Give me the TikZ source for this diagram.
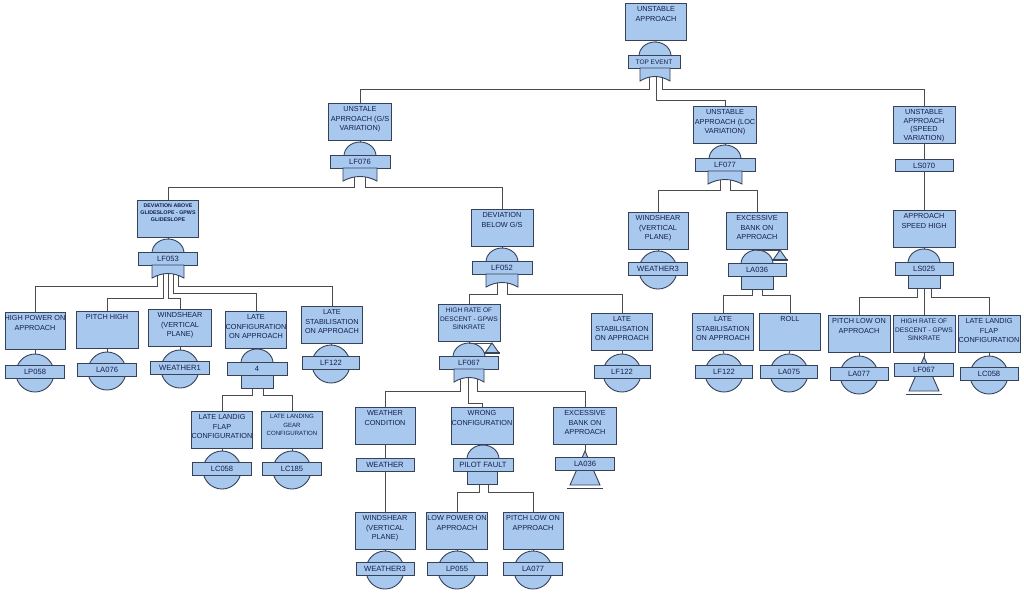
\documentclass[tikz,border=0pt]{standalone}
\usepackage{fontspec}
\setmainfont{Liberation Sans}
\pgfdeclarelayer{bg}
\pgfsetlayers{bg,main}
\definecolor{bfill}{RGB}{168,200,238}
\definecolor{bdraw}{RGB}{55,65,88}
\definecolor{wcol}{RGB}{75,75,75}
\definecolor{tcol}{RGB}{20,30,75}
\tikzset{
 ebox/.style={draw=bdraw, fill=bfill, line width=0.9pt, minimum height=37pt, inner sep=0pt, rectangle},
 etext/.style={font=\fontsize{7.3}{9.3}\selectfont, text=tcol, align=center, inner sep=0pt},
 ebar/.style={draw=bdraw, fill=bfill, line width=0.9pt, minimum height=12.5pt, minimum width=59pt, inner sep=0pt, font=\fontsize{7.6}{8}\selectfont, text=tcol, rectangle},
 gshape/.style={draw=bdraw, fill=bfill, line width=0.9pt},
 wire/.style={draw=wcol, line width=0.9pt},
}
\newcommand{\ebx}[6][]{%
  \node[ebox, minimum width=#5pt, anchor=north] (#2) at (#3,#4) {};
  \node[etext, anchor=north, #1] (#2t) at ([yshift=-3.5pt]#2.north) {#6};}
\newcommand{\dome}[2]{\draw[gshape] ({#1+16},#2) arc[start angle=0,end angle=180,x radius=16pt,y radius=14pt] -- cycle;}
\newcommand{\orbot}[3]{\draw[gshape] ({#1-#3},#2) -- ({#1-#3},{#2+13}) .. controls ({#1-#3/3},{#2+7}) and ({#1+#3/3},{#2+7}) .. ({#1+#3},{#2+13}) -- ({#1+#3},#2) -- cycle;}
\newcommand{\andbot}[3]{\draw[gshape] ({#1-#3},#2) rectangle ({#1+#3},{#2+13});}
\newcommand{\bev}[5][59]{%
  \node[gshape, circle, minimum size=38pt, inner sep=0pt] (#2c) at (#3,#4) {};
  \node[ebar, minimum width=#1pt] (#2) at (#3,{#4-1}) {#5};}
\newcommand{\xin}[4]{%
  \coordinate (#1a) at (#2,#3);
  \draw[gshape] (#2,#3) -- ({#2+15},{#3+34}) -- ({#2-15},{#3+34}) -- cycle;
  \draw[bdraw, line width=1pt] ({#2-18},{#3+37}) -- ({#2+18},{#3+37});
  \node[ebar] (#1) at (#2,{#3+13}) {#4};}
\newcommand{\xout}[3]{%
  \draw[wire] (#2,#1) -- (#3,#1);
  \draw[gshape] (#3,#1) -- ({#3+7},{#1+10}) -- ({#3-7},{#1+10}) -- cycle;
  \draw[bdraw, line width=1.3pt] ({#3-8},{#1+10}) -- ({#3+8},{#1+10});}
\begin{document}
\begin{tikzpicture}[x=1pt,y=-1pt]
\begin{pgfonlayer}{bg}\fill[white] (0,0) rectangle (1024,606);\end{pgfonlayer}
\useasboundingbox (0,0) rectangle (1024,606);

% top
\ebx{b0}{656}{3}{61}{UNSTABLE\\APPROACH}
\dome{655}{56}
\node[ebar, minimum width=52pt, font=\fontsize{6.5}{7}\selectfont] (g0) at (654,62) {TOP EVENT};
\orbot{655}{68}{15}

% G/S
\ebx{b1}{360}{103}{63}{UNSTALE\\APRROACH (G/S\\VARIATION)}
\dome{360}{156}
\node[ebar, minimum width=60pt] (g1) at (360,162) {LF076};
\orbot{360}{168}{17}

% LOC
\ebx{b2}{725}{106}{63}{UNSTABLE\\APPROACH (LOC\\VARIATION)}
\dome{725}{159}
\node[ebar, minimum width=60pt] (g2) at (725,165) {LF077};
\orbot{725}{171}{17}

% SPEED
\ebx[font=\fontsize{7.3}{8.4}\selectfont]{b3}{924}{106}{62}{UNSTABLE\\APPROACH\\(SPEED\\VARIATION)}
\node[ebar, minimum width=58pt] (g3) at (924,165.5) {LS070};
\ebx{b3b}{924}{210}{62}{APPROACH\\SPEED HIGH}
\dome{924}{263}
\node[ebar, minimum width=58pt] (g4) at (924,269) {LS025};
\andbot{924}{275}{16}
\ebx{b9}{859}{315}{62}{PITCH LOW ON\\APPROACH}
\bev[58]{e9}{859}{375}{LA077}
\ebx[font=\fontsize{6.6}{8.7}\selectfont]{b10}{924}{315}{62}{HIGH RATE OF\\DESCENT - GPWS\\SINKRATE}
\xin{x10}{924}{357}{LF067}
\ebx{b11}{989}{315}{62}{LATE LANDIG\\FLAP\\CONFIGURATION}
\bev[58]{e11}{989}{375}{LC058}

% deviation above
\ebx[font=\bfseries\fontsize{5.3}{7}\selectfont]{b4}{168}{200}{61}{DEVIATION ABOVE\\GLIDESLOPE - GPWS\\GLIDESLOPE}
\dome{168}{253}
\node[ebar] (g5) at (168,259) {LF053};
\orbot{168}{265}{16}
\ebx{b12}{35}{312}{60}{HIGH POWER ON\\APPROACH}
\bev{e12}{35}{373}{LP058}
\ebx{b13}{107}{311}{62}{PITCH HIGH}
\bev{e13}{107}{371}{LA076}
\ebx{b14}{180}{309}{63}{WINDSHEAR\\(VERTICAL\\PLANE)}
\bev{e14}{180}{369}{WEATHER1}
\ebx{b15}{256}{311}{61}{LATE\\CONFIGURATION\\ON APPROACH}
\dome{257}{363}
\node[ebar, minimum width=60pt] (g6) at (257,369) {4};
\andbot{257}{375}{16}
\ebx{b16}{332}{306}{61}{LATE\\STABILISATION\\ON APPROACH}
\bev[57]{e16}{331}{364}{LF122}
\ebx{b17}{222}{411}{61}{LATE LANDIG\\FLAP\\CONFIGURATION}
\bev{e17}{222}{470}{LC058}
\ebx[font=\fontsize{6.1}{8.5}\selectfont]{b18}{292}{411}{61}{LATE LANDING\\GEAR\\CONFIGURATION}
\bev{e18}{292}{470}{LC185}

% deviation below
\ebx{b6}{502}{209}{62}{DEVIATION\\BELOW G/S}
\dome{502}{262}
\node[ebar, minimum width=60pt] (g7) at (502,268) {LF052};
\orbot{502}{274}{16}
\ebx[font=\fontsize{6.6}{8.7}\selectfont]{b19}{469}{304}{62}{HIGH RATE OF\\DESCENT - GPWS\\SINKRATE}
\dome{469}{357}
\xout{343}{469}{492}
\node[ebar] (g8) at (469,363) {LF067};
\orbot{469}{369}{15}
\ebx{b20}{622}{313}{61}{LATE\\STABILISATION\\ON APPROACH}
\bev[56]{e20}{622}{373}{LF122}
\ebx{b21}{385}{407}{60}{WEATHER\\CONDITION}
\node[ebar, minimum width=58pt] (g9) at (385,465) {WEATHER};
\ebx{b22}{482}{407}{62}{WRONG\\CONFIGURATION}
\dome{483}{459}
\node[ebar, minimum width=60pt] (g10) at (483,465) {PILOT FAULT};
\andbot{482}{471}{15}
\ebx{b23}{585}{407}{63}{EXCESSIVE\\BANK ON\\APPROACH}
\xin{x23}{585}{451}{LA036}
\ebx{b24}{385}{512}{60}{WINDSHEAR\\(VERTICAL\\PLANE)}
\bev[58]{e24}{385}{570}{WEATHER3}
\ebx{b25}{457}{512}{61}{LOW POWER ON\\APPROACH}
\bev[60]{e25}{457}{570}{LP055}
\ebx{b26}{533}{512}{60}{PITCH LOW ON\\APPROACH}
\bev[59]{e26}{533}{570}{LA077}

% LOC children
\ebx{b7}{658}{212}{60}{WINDSHEAR\\(VERTICAL\\PLANE)}
\bev{e7}{658}{270}{WEATHER3}
\ebx{b8}{757}{212}{61}{EXCESSIVE\\BANK ON\\APPROACH}
\dome{757}{264}
\xout{250}{757}{780}
\node[ebar, minimum width=58pt] (g11) at (757,270) {LA036};
\andbot{757}{276}{16}
\ebx{b27}{723}{313}{61}{LATE\\STABILISATION\\ON APPROACH}
\bev[57]{e27}{724}{373}{LF122}
\ebx{b28}{790}{313}{61}{ROLL}
\bev[57]{e28}{789}{373}{LA075}

\begin{pgfonlayer}{bg}
\draw[wire] (b0.south) -- (g0.north);
\draw[wire] ([xshift=-5pt]g0.south) -- ++(0,21) -| (b1.north);
\draw[wire] ([xshift=2pt]g0.south) -- ++(0,32) -| (b2.north);
\draw[wire] ([xshift=8pt]g0.south) -- ++(0,21) -| (b3.north);
\draw[wire] (b1.south) -- (g1.north);
\draw[wire] ([xshift=-6pt]g1.south) -- ++(0,19) -| (b4.north);
\draw[wire] ([xshift=5pt]g1.south) -- ++(0,19) -| (b6.north);
\draw[wire] (b2.south) -- (g2.north);
\draw[wire] ([xshift=-5pt]g2.south) -- ++(0,19) -| (b7.north);
\draw[wire] ([xshift=5pt]g2.south) -- ++(0,19) -| (b8.north);
\draw[wire] (b3.south) -- (g3.north);
\draw[wire] (g3.south) -- (b3b.north);
\draw[wire] (b3b.south) -- (g4.north);
\draw[wire] ([xshift=-7pt]g4.south) -- ++(0,22) -| (b9.north);
\draw[wire] (g4.south) -- (b10.north);
\draw[wire] ([xshift=7pt]g4.south) -- ++(0,22) -| (b11.north);
\draw[wire] (b9.south) -- (e9c.north);
\draw[wire] (b10.south) -- (x10a);
\draw[wire] (b11.south) -- (e11c.north);
\draw[wire] (b4.south) -- (g5.north);
\draw[wire] ([xshift=-11pt]g5.south) -- ++(0,21) -| (b12.north);
\draw[wire] ([xshift=-5pt]g5.south) -- ++(0,33) -| (b13.north);
\draw[wire] (g5.south) -- ++(0,33) -| (b14.north);
\draw[wire] ([xshift=5pt]g5.south) -- ++(0,28) -| (b15.north);
\draw[wire] ([xshift=10pt]g5.south) -- ++(0,21) -| (b16.north);
\draw[wire] (b12.south) -- (e12c.north);
\draw[wire] (b13.south) -- (e13c.north);
\draw[wire] (b14.south) -- (e14c.north);
\draw[wire] (b16.south) -- (e16c.north);
\draw[wire] (b15.south) -- (g6.north);
\draw[wire] ([xshift=-5pt]g6.south) -- ++(0,20) -| (b17.north);
\draw[wire] ([xshift=6pt]g6.south) -- ++(0,20) -| (b18.north);
\draw[wire] (b17.south) -- (e17c.north);
\draw[wire] (b18.south) -- (e18c.north);
\draw[wire] (b6.south) -- (g7.north);
\draw[wire] ([xshift=-5pt]g7.south) -- ++(0,20) -| (b19.north);
\draw[wire] ([xshift=5pt]g7.south) -- ++(0,20) -| (b20.north);
\draw[wire] (b19.south) -- (g8.north);
\draw[wire] ([xshift=-9pt]g8.south) -- ++(0,22) -| (b21.north);
\draw[wire] ([xshift=-1pt]g8.south) -- ++(0,34) -| (b22.north);
\draw[wire] ([xshift=8pt]g8.south) -- ++(0,22) -| (b23.north);
\draw[wire] (b20.south) -- (e20c.north);
\draw[wire] (b21.south) -- (g9.north);
\draw[wire] (g9.south) -- (b24.north);
\draw[wire] (b22.south) -- (g10.north);
\draw[wire] ([xshift=-4pt]g10.south) -- ++(0,21) -| (b25.north);
\draw[wire] ([xshift=5pt]g10.south) -- ++(0,21) -| (b26.north);
\draw[wire] (b23.south) -- (x23a);
\draw[wire] (b24.south) -- (e24c.north);
\draw[wire] (b25.south) -- (e25c.north);
\draw[wire] (b26.south) -- (e26c.north);
\draw[wire] (b7.south) -- (e7c.north);
\draw[wire] (b8.south) -- (g11.north);
\draw[wire] ([xshift=-5pt]g11.south) -- ++(0,19) -| (b27.north);
\draw[wire] ([xshift=5pt]g11.south) -- ++(0,19) -| (b28.north);
\draw[wire] (b27.south) -- (e27c.north);
\draw[wire] (b28.south) -- (e28c.north);
\end{pgfonlayer}
\end{tikzpicture}
\end{document}
